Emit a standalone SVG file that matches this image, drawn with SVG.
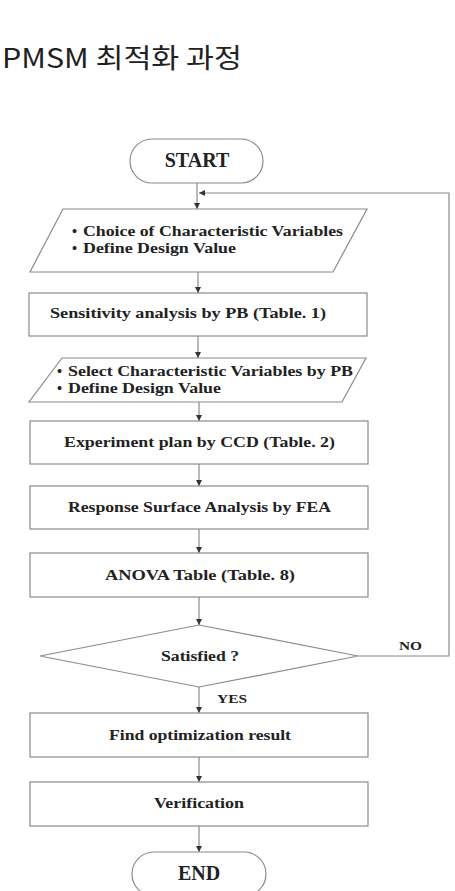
<svg xmlns="http://www.w3.org/2000/svg" width="455" height="891" viewBox="0 0 455 891">
<style>
.shape{fill:#fff;stroke:#8a8a8a;stroke-width:1.2}
.t{font-family:"Liberation Serif","Times New Roman",serif;font-weight:bold;font-size:14.5px;fill:#222}
.big{font-size:20px}
.lbl{font-size:12px}
.conn{fill:none;stroke:#8a8a8a;stroke-width:1.2}
.title{font-family:"Noto Sans CJK KR","Noto Sans",sans-serif;font-size:27px;fill:#222}
</style>
<defs>
<marker id="ah" viewBox="0 0 10 10" refX="10" refY="5" markerWidth="6" markerHeight="6" markerUnits="userSpaceOnUse" orient="auto">
<path d="M0,0 L10,5 L0,10 z" fill="#333"/>
</marker>
</defs>
<rect width="455" height="891" fill="#fff"/>
<text class="title" x="2" y="68" textLength="240" lengthAdjust="spacingAndGlyphs">PMSM 최적화 과정</text>

<g id="connectors">
<line class="conn" x1="197" y1="183" x2="197" y2="209" marker-end="url(#ah)"/>
<line class="conn" x1="198" y1="272" x2="198" y2="293" marker-end="url(#ah)"/>
<line class="conn" x1="198" y1="336" x2="198" y2="358" marker-end="url(#ah)"/>
<line class="conn" x1="199" y1="402" x2="199" y2="421" marker-end="url(#ah)"/>
<line class="conn" x1="199" y1="464" x2="199" y2="486" marker-end="url(#ah)"/>
<line class="conn" x1="199" y1="529" x2="199" y2="553" marker-end="url(#ah)"/>
<line class="conn" x1="199" y1="597" x2="199" y2="625" marker-end="url(#ah)"/>
<line class="conn" x1="199" y1="687" x2="199" y2="713" marker-end="url(#ah)"/>
<line class="conn" x1="199" y1="757" x2="199" y2="782" marker-end="url(#ah)"/>
<line class="conn" x1="199" y1="826" x2="199" y2="852" marker-end="url(#ah)"/>
<polyline class="conn" points="358,656 449,656 449,193 199,193" marker-end="url(#ah)"/>
<text class="t lbl" x="399" y="650" textLength="23" lengthAdjust="spacingAndGlyphs">NO</text>
<text class="t lbl" x="217" y="703" textLength="30" lengthAdjust="spacingAndGlyphs">YES</text>
</g>

<g id="start">
<rect class="shape" x="130" y="139" width="133" height="44" rx="22"/>
<text class="t big" x="197" y="167" text-anchor="middle">START</text>
</g>

<g id="choice">
<polygon class="shape" points="63,209 367,209 333,272 30,272"/>
<text class="t" x="72" y="236">•</text>
<text class="t" x="83" y="236" textLength="260" lengthAdjust="spacingAndGlyphs">Choice of Characteristic Variables</text>
<text class="t" x="72" y="253">•</text>
<text class="t" x="83" y="253" textLength="153" lengthAdjust="spacingAndGlyphs">Define Design Value</text>
</g>

<g id="sensitivity">
<rect class="shape" x="29" y="293" width="338" height="43"/>
<text class="t" x="50" y="318" textLength="276" lengthAdjust="spacingAndGlyphs">Sensitivity analysis by PB  (Table. 1)</text>
</g>

<g id="select">
<polygon class="shape" points="62,358 366,358 342,402 29,402"/>
<text class="t" x="57" y="376">•</text>
<text class="t" x="68" y="376" textLength="285" lengthAdjust="spacingAndGlyphs">Select Characteristic Variables by PB</text>
<text class="t" x="57" y="393">•</text>
<text class="t" x="68" y="393" textLength="153" lengthAdjust="spacingAndGlyphs">Define Design Value</text>
</g>

<g id="experiment">
<rect class="shape" x="30" y="421" width="338" height="43"/>
<text class="t" x="64" y="447" textLength="271" lengthAdjust="spacingAndGlyphs">Experiment plan by CCD (Table. 2)</text>
</g>

<g id="response">
<rect class="shape" x="30" y="486" width="338" height="43"/>
<text class="t" x="68" y="512" textLength="263" lengthAdjust="spacingAndGlyphs">Response Surface Analysis by FEA</text>
</g>

<g id="anova">
<rect class="shape" x="30" y="553" width="338" height="44"/>
<text class="t" x="105" y="580" textLength="190" lengthAdjust="spacingAndGlyphs">ANOVA Table (Table. 8)</text>
</g>

<g id="satisfied">
<polygon class="shape" points="199,625 358,656 199,687 40,656"/>
<text class="t" x="161" y="661" textLength="78" lengthAdjust="spacingAndGlyphs">Satisfied ?</text>
</g>

<g id="find">
<rect class="shape" x="30" y="713" width="338" height="44"/>
<text class="t" x="109" y="740" textLength="182" lengthAdjust="spacingAndGlyphs">Find optimization result</text>
</g>

<g id="verification">
<rect class="shape" x="30" y="782" width="338" height="44"/>
<text class="t" x="154" y="808" textLength="90" lengthAdjust="spacingAndGlyphs">Verification</text>
</g>

<g id="end">
<rect class="shape" x="132" y="852" width="134" height="44" rx="22"/>
<text class="t big" x="199" y="880" text-anchor="middle">END</text>
</g>
</svg>
